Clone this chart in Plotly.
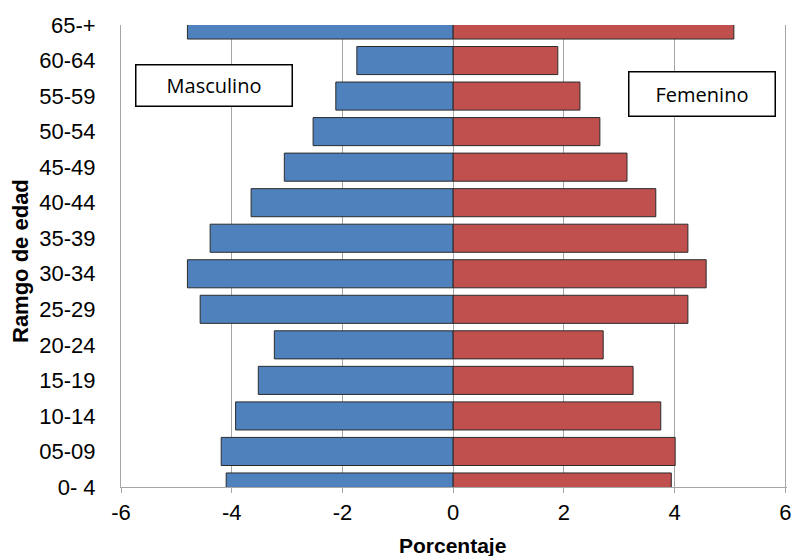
import plotly.graph_objects as go

age_groups = ["0- 4", "05-09", "10-14", "15-19", "20-24", "25-29", "30-34",
              "35-39", "40-44", "45-49", "50-54", "55-59", "60-64", "65-+"]
masculino = [-4.10, -4.19, -3.93, -3.52, -3.23, -4.57, -4.80,
             -4.39, -3.65, -3.05, -2.53, -2.12, -1.74, -4.80]
femenino = [3.94, 4.01, 3.75, 3.25, 2.71, 4.24, 4.57,
            4.24, 3.66, 3.14, 2.65, 2.29, 1.89, 5.07]
x_ticks = [-6, -4, -2, 0, 2, 4, 6]

pos = list(range(len(age_groups)))
FONT = "Liberation Sans, Arial, sans-serif"

fig = go.Figure()
fig.add_trace(go.Bar(y=pos, x=masculino, orientation="h", width=0.79,
                     name="Masculino",
                     marker=dict(color="#4F81BD", line=dict(color="#2b2b2b", width=1))))
fig.add_trace(go.Bar(y=pos, x=femenino, orientation="h", width=0.79,
                     name="Femenino",
                     marker=dict(color="#C0504D", line=dict(color="#2b2b2b", width=1))))

fig.update_layout(
    width=792, height=556,
    margin=dict(l=121, r=5, t=25, b=69, autoexpand=False),
    barmode="relative",
    showlegend=False,
    plot_bgcolor="white", paper_bgcolor="white",
    font=dict(family=FONT, color="black"),
    xaxis=dict(range=[-6, 6.03], tickvals=x_ticks, ticktext=[str(v) for v in x_ticks],
               showgrid=True, gridcolor="#a6a6a6", gridwidth=1, zeroline=False,
               showline=True, linecolor="#a6a6a6", linewidth=1,
               ticks="outside", ticklen=5, tickcolor="#a6a6a6",
               tickfont=dict(size=22, family=FONT), ticklabelstandoff=1,
               ticklabeloverflow="allow", automargin=False),
    yaxis=dict(range=[0, 13], tickvals=pos, ticktext=age_groups,
               showgrid=False, zeroline=False,
               showline=True, linecolor="#a6a6a6", linewidth=1,
               ticks="", tickfont=dict(size=22, family=FONT), ticklabelstandoff=20,
               automargin=False),
)

fig.add_annotation(text="Porcentaje", xref="paper", yref="paper",
                   x=(452 - 121) / 666, y=-(545 - 487) / 462,
                   xanchor="center", yanchor="middle", showarrow=False,
                   font=dict(size=21, family=FONT, color="black", weight="bold"))
fig.add_annotation(text="Ramgo de edad", xref="paper", yref="paper",
                   x=-(121 - 20) / 666, y=(487 - 261) / 462, textangle=-90,
                   xanchor="center", yanchor="middle", showarrow=False,
                   font=dict(size=22, family=FONT, color="black", weight="bold"))

box_font = dict(size=20, family="Open Sans, sans-serif", color="black")
fig.add_annotation(text="Masculino", xref="paper", yref="paper",
                   x=(214 - 121) / 666, y=(487 - 85.5) / 462,
                   xanchor="center", yanchor="middle", showarrow=False,
                   width=155, height=40, borderpad=0, bordercolor="black",
                   borderwidth=1.5, bgcolor="white", font=box_font)
fig.add_annotation(text="Femenino", xref="paper", yref="paper",
                   x=(702 - 121) / 666, y=(487 - 94) / 462,
                   xanchor="center", yanchor="middle", showarrow=False,
                   width=145, height=43, borderpad=0, bordercolor="black",
                   borderwidth=1.5, bgcolor="white", font=box_font)

fig.write_html("out.html")
